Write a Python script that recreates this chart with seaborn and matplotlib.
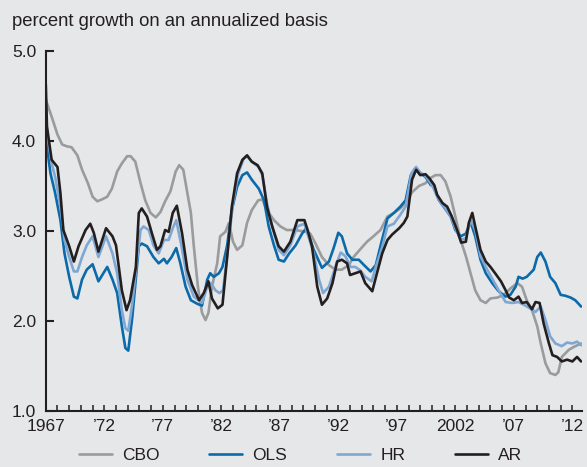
import numpy as np
import pandas as pd
import matplotlib.pyplot as plt
import seaborn as sns

# values (year, percent growth)
cbo_years = [1967.0, 1967.1, 1967.5, 1968.0, 1968.4, 1968.8, 1969.2, 1969.7, 1970.1, 1970.6,
             1971.0, 1971.4, 1971.8, 1972.25, 1972.65, 1973.1, 1973.5, 1973.95, 1974.25, 1974.65,
             1975.1, 1975.5, 1975.95, 1976.4, 1976.8, 1977.2, 1977.65, 1978.1, 1978.4, 1978.75,
             1979.1, 1979.4, 1979.65, 1980.0, 1980.35, 1980.65, 1980.9, 1981.2, 1981.65, 1981.9,
             1982.35, 1982.65, 1983.0, 1983.35, 1983.8, 1984.2, 1984.6, 1985.15, 1985.5, 1985.9,
             1986.5, 1987.05, 1987.6, 1988.35, 1989.2, 1989.6, 1990.05, 1990.6, 1991.2, 1991.75,
             1992.3, 1992.9, 1993.3, 1993.9, 1994.45, 1995.0, 1995.6, 1996.2, 1996.75, 1997.3,
             1997.9, 1998.3, 1998.9, 1999.45, 1999.9, 2000.3, 2000.75, 2001.15, 2001.6, 2002.0,
             2002.45, 2002.9, 2003.3, 2003.7, 2004.15, 2004.6, 2005.0, 2005.6, 2006.15, 2006.7,
             2007.3, 2007.7, 2008.1, 2008.55, 2009.0, 2009.3, 2009.7, 2010.1, 2010.55, 2010.8,
             2011.1, 2011.7, 2012.25, 2012.75]
cbo_vals = [4.45, 4.42, 4.27, 4.07, 3.96, 3.94, 3.93, 3.84, 3.68, 3.53,
            3.38, 3.33, 3.35, 3.38, 3.47, 3.66, 3.75, 3.83, 3.83, 3.77,
            3.53, 3.34, 3.20, 3.15, 3.21, 3.33, 3.44, 3.66, 3.73, 3.68,
            3.42, 3.20, 2.83, 2.38, 2.09, 2.01, 2.09, 2.38, 2.64, 2.94,
            2.99, 3.09, 2.88, 2.79, 2.84, 3.09, 3.23, 3.34, 3.35, 3.23,
            3.12, 3.05, 3.01, 3.01, 2.99, 2.97, 2.86, 2.71, 2.62, 2.57,
            2.57, 2.62, 2.71, 2.80, 2.88, 2.94, 3.01, 3.16, 3.20, 3.25,
            3.34, 3.43, 3.50, 3.53, 3.59, 3.62, 3.62, 3.55, 3.38, 3.16,
            2.90, 2.72, 2.53, 2.34, 2.23, 2.20, 2.25, 2.26, 2.29, 2.36,
            2.42, 2.38, 2.23, 2.12, 1.94, 1.75, 1.53, 1.42, 1.40, 1.43,
            1.60, 1.68, 1.72, 1.75]

ols_years = [1967.0, 1967.1, 1967.4, 1967.8, 1968.25, 1968.6, 1969.0, 1969.4, 1969.7, 1970.1,
             1970.5, 1971.0, 1971.5, 1972.25, 1972.7, 1973.1, 1973.5, 1973.8, 1974.05, 1974.4,
             1974.95, 1975.2, 1975.65, 1976.2, 1976.65, 1977.1, 1977.35, 1977.75, 1978.15, 1978.5,
             1978.95, 1979.4, 1979.95, 1980.35, 1980.8, 1981.05, 1981.35, 1981.8, 1982.1, 1982.5,
             1982.9, 1983.35, 1983.8, 1984.2, 1984.6, 1985.2, 1985.65, 1986.05, 1986.5, 1986.9,
             1987.35, 1987.8, 1988.35, 1988.9, 1989.25, 1989.9, 1990.6, 1991.2, 1991.6, 1992.0,
             1992.3, 1992.75, 1993.2, 1993.75, 1994.2, 1994.75, 1995.2, 1995.6, 1996.2, 1996.75,
             1997.3, 1997.75, 1998.2, 1998.6, 1999.0, 1999.45, 1999.9, 2000.1, 2000.6, 2001.0,
             2001.6, 2002.0, 2002.45, 2002.9, 2003.3, 2003.7, 2004.15, 2004.6, 2005.15, 2005.7,
             2006.3, 2006.7, 2007.15, 2007.4, 2007.75, 2008.1, 2008.4, 2008.7, 2009.0, 2009.3,
             2009.7, 2010.1, 2010.55, 2011.0, 2011.4, 2011.85, 2012.25, 2012.75]
ols_vals = [4.30, 3.94, 3.64, 3.42, 3.12, 2.75, 2.49, 2.27, 2.25, 2.46,
            2.57, 2.63, 2.44, 2.60, 2.46, 2.31, 1.94, 1.70, 1.67, 2.05,
            2.83, 2.86, 2.83, 2.71, 2.64, 2.69, 2.64, 2.71, 2.81, 2.64,
            2.38, 2.23, 2.19, 2.17, 2.46, 2.53, 2.49, 2.53, 2.60, 2.84,
            3.23, 3.49, 3.62, 3.65, 3.57, 3.47, 3.34, 3.05, 2.84, 2.68,
            2.66, 2.75, 2.84, 2.97, 3.03, 2.79, 2.59, 2.66, 2.81, 2.98,
            2.94, 2.75, 2.68, 2.68, 2.62, 2.55, 2.62, 2.83, 3.14, 3.20,
            3.27, 3.34, 3.62, 3.70, 3.64, 3.60, 3.51, 3.50, 3.34, 3.27,
            3.16, 3.01, 2.94, 2.97, 3.10, 2.94, 2.68, 2.53, 2.42, 2.33,
            2.27, 2.29, 2.38, 2.49, 2.47, 2.49, 2.53, 2.57, 2.71, 2.76,
            2.66, 2.49, 2.42, 2.29, 2.28, 2.26, 2.23, 2.16]

hr_years = [1967.0, 1967.1, 1967.5, 1967.8, 1968.25, 1968.6, 1969.0, 1969.4, 1969.7, 1970.1,
            1970.5, 1971.0, 1971.5, 1972.15, 1972.7, 1973.1, 1973.5, 1973.8, 1974.05, 1974.4,
            1974.8, 1975.1, 1975.35, 1975.8, 1976.2, 1976.65, 1977.1, 1977.5, 1977.85, 1978.15,
            1978.6, 1979.1, 1979.65, 1980.35, 1980.8, 1981.1, 1981.5, 1981.85, 1982.15, 1982.55,
            1983.0, 1983.45, 1983.9, 1984.2, 1984.6, 1985.2, 1985.5, 1985.9, 1986.35, 1986.9,
            1987.35, 1987.9, 1988.5, 1989.1, 1989.9, 1990.35, 1990.7, 1991.2, 1991.75, 1992.2,
            1992.6, 1993.05, 1993.45, 1993.9, 1994.3, 1994.85, 1995.2, 1995.75, 1996.2, 1996.75,
            1997.3, 1997.75, 1998.25, 1998.65, 1999.0, 1999.45, 1999.9, 2000.15, 2000.6, 2001.15,
            2001.6, 2002.0, 2002.45, 2002.9, 2003.3, 2003.7, 2004.15, 2004.6, 2005.15, 2005.7,
            2006.3, 2006.85, 2007.4, 2007.85, 2008.25, 2008.85, 2009.3, 2009.7, 2010.1, 2010.55,
            2011.1, 2011.55, 2012.0, 2012.4, 2012.75]
hr_vals = [4.47, 4.10, 3.75, 3.60, 3.27, 2.90, 2.71, 2.55, 2.55, 2.71,
           2.84, 2.94, 2.71, 2.94, 2.75, 2.53, 2.12, 1.92, 1.89, 2.20,
           2.68, 3.01, 3.05, 3.01, 2.84, 2.75, 2.90, 2.90, 3.03, 3.12,
           2.83, 2.46, 2.27, 2.20, 2.38, 2.42, 2.34, 2.31, 2.34, 2.79,
           3.31, 3.64, 3.80, 3.83, 3.77, 3.71, 3.62, 3.31, 3.05, 2.79,
           2.73, 2.84, 3.05, 3.08, 2.75, 2.46, 2.31, 2.38, 2.60, 2.76,
           2.72, 2.60, 2.60, 2.56, 2.49, 2.44, 2.60, 2.82, 3.05, 3.08,
           3.18, 3.27, 3.64, 3.71, 3.65, 3.61, 3.53, 3.47, 3.34, 3.25,
           3.16, 3.03, 2.90, 2.92, 3.12, 3.01, 2.72, 2.60, 2.47, 2.34,
           2.21, 2.20, 2.21, 2.18, 2.15, 2.10, 2.16, 2.01, 1.83, 1.75,
           1.72, 1.76, 1.75, 1.77, 1.73]

ar_years = [1967.0, 1967.1, 1967.5, 1968.0, 1968.25, 1968.5, 1969.0, 1969.4, 1969.8, 1970.4,
            1970.8, 1971.1, 1971.5, 1972.15, 1972.7, 1973.0, 1973.5, 1973.9, 1974.2, 1974.7,
            1974.95, 1975.2, 1975.65, 1976.1, 1976.5, 1976.8, 1977.2, 1977.5, 1977.85, 1978.2,
            1978.65, 1979.1, 1979.5, 1980.1, 1980.5, 1980.9, 1981.2, 1981.7, 1982.1, 1982.5,
            1982.9, 1983.35, 1983.8, 1984.2, 1984.6, 1985.1, 1985.5, 1985.9, 1986.35, 1986.9,
            1987.35, 1987.9, 1988.5, 1989.1, 1989.4, 1989.75, 1990.2, 1990.6, 1991.05, 1991.5,
            1991.9, 1992.3, 1992.75, 1993.0, 1993.45, 1993.9, 1994.3, 1994.9, 1995.3, 1995.75,
            1996.2, 1996.6, 1997.2, 1997.6, 1997.9, 1998.3, 1998.65, 1999.0, 1999.45, 1999.75,
            2000.2, 2000.45, 2000.9, 2001.3, 2001.7, 2002.15, 2002.5, 2002.9, 2003.15, 2003.45,
            2003.7, 2004.15, 2004.6, 2005.0, 2005.4, 2005.9, 2006.3, 2006.6, 2007.0, 2007.4,
            2007.7, 2008.1, 2008.55, 2008.85, 2009.2, 2009.55, 2010.0, 2010.3, 2010.7, 2011.1,
            2011.55, 2012.0, 2012.4, 2012.75]
ar_vals = [4.63, 4.16, 3.79, 3.71, 3.42, 3.01, 2.83, 2.66, 2.83, 3.01,
           3.08, 2.98, 2.77, 3.03, 2.94, 2.84, 2.34, 2.12, 2.23, 2.60,
           3.20, 3.25, 3.16, 2.96, 2.79, 2.83, 3.01, 2.99, 3.20, 3.28,
           2.97, 2.57, 2.40, 2.23, 2.31, 2.44, 2.25, 2.14, 2.18, 2.71,
           3.27, 3.64, 3.79, 3.84, 3.77, 3.73, 3.64, 3.27, 3.05, 2.83,
           2.77, 2.88, 3.12, 3.12, 3.00, 2.83, 2.38, 2.18, 2.25, 2.42,
           2.66, 2.68, 2.64, 2.51, 2.53, 2.55, 2.42, 2.33, 2.53, 2.75,
           2.90, 2.96, 3.03, 3.09, 3.16, 3.57, 3.68, 3.62, 3.63, 3.59,
           3.51, 3.40, 3.31, 3.27, 3.16, 3.01, 2.87, 2.88, 3.09, 3.20,
           3.05, 2.79, 2.66, 2.60, 2.53, 2.44, 2.34, 2.26, 2.23, 2.27,
           2.20, 2.21, 2.13, 2.21, 2.20, 1.97, 1.75, 1.62, 1.60, 1.55,
           1.57, 1.55, 1.60, 1.55]

series_names = ["CBO", "OLS", "HR", "AR"]
colors = ["#9a9b9d", "#0b6aa9", "#7ea7d4", "#231f20"]

tick_years = list(range(1967, 2013))
label_years = [1967, 1972, 1977, 1982, 1987, 1992, 1997, 2002, 2007, 2012]
label_text = ["1967", "\u201972", "\u201977", "\u201982", "\u201987", "\u201992", "\u201997",
              "2002", "\u201907", "\u201912"]

frames = []
for name, yrs, vals in zip(series_names,
                           [cbo_years, ols_years, hr_years, ar_years],
                           [cbo_vals, ols_vals, hr_vals, ar_vals]):
    frames.append(pd.DataFrame({"year": yrs, "value": vals, "series": name}))
df = pd.concat(frames, ignore_index=True)

bg = "#e6e7e9"
ink = "#231f20"
sns.set_theme(style="ticks")
plt.rcParams["font.family"] = ["Liberation Sans", "DejaVu Sans"]
plt.rcParams["figure.facecolor"] = bg
plt.rcParams["axes.facecolor"] = bg

fig = plt.figure(figsize=(5.87, 4.67), dpi=100)
ax = fig.add_axes([0.078, 0.12, 0.913, 0.771])

sns.lineplot(data=df, x="year", y="value", hue="series", hue_order=series_names,
             palette=colors, estimator=None, linewidth=1.9, ax=ax)

ax.set_xlim(1967, 2012.8)
ax.set_ylim(1, 5)
ax.set_xticks(tick_years)
ax.set_xticklabels([label_text[label_years.index(y)] if y in label_years else "" for y in tick_years])
ax.set_yticks([1, 2, 3, 4, 5])
ax.set_yticklabels(["1.0", "2.0", "3.0", "4.0", "5.0"])
ax.set_xlabel("")
ax.set_ylabel("")

for s in ["top", "right"]:
    ax.spines[s].set_visible(False)
for s in ["left", "bottom"]:
    ax.spines[s].set_linewidth(1.5)
    ax.spines[s].set_color(ink)

ax.tick_params(axis="x", direction="in", length=4, width=1.1, color=ink,
               labelsize=12.5, labelcolor=ink, pad=6)
ax.tick_params(axis="y", direction="in", length=6, width=1.5, color=ink,
               labelsize=12.5, labelcolor=ink, pad=7)

fig.text(0.02, 0.953, "percent growth on an annualized basis", fontsize=13.3,
         color=ink, va="center", ha="left")

sns.move_legend(ax, "center", bbox_to_anchor=(0.512, 0.024), bbox_transform=fig.transFigure,
                ncol=4, frameon=False, title=None, fontsize=12.5,
                handlelength=1.9, handletextpad=0.6, columnspacing=2.85)
for t in ax.get_legend().get_texts():
    t.set_color(ink)

fig.savefig("out.png", dpi=100, facecolor=bg)
